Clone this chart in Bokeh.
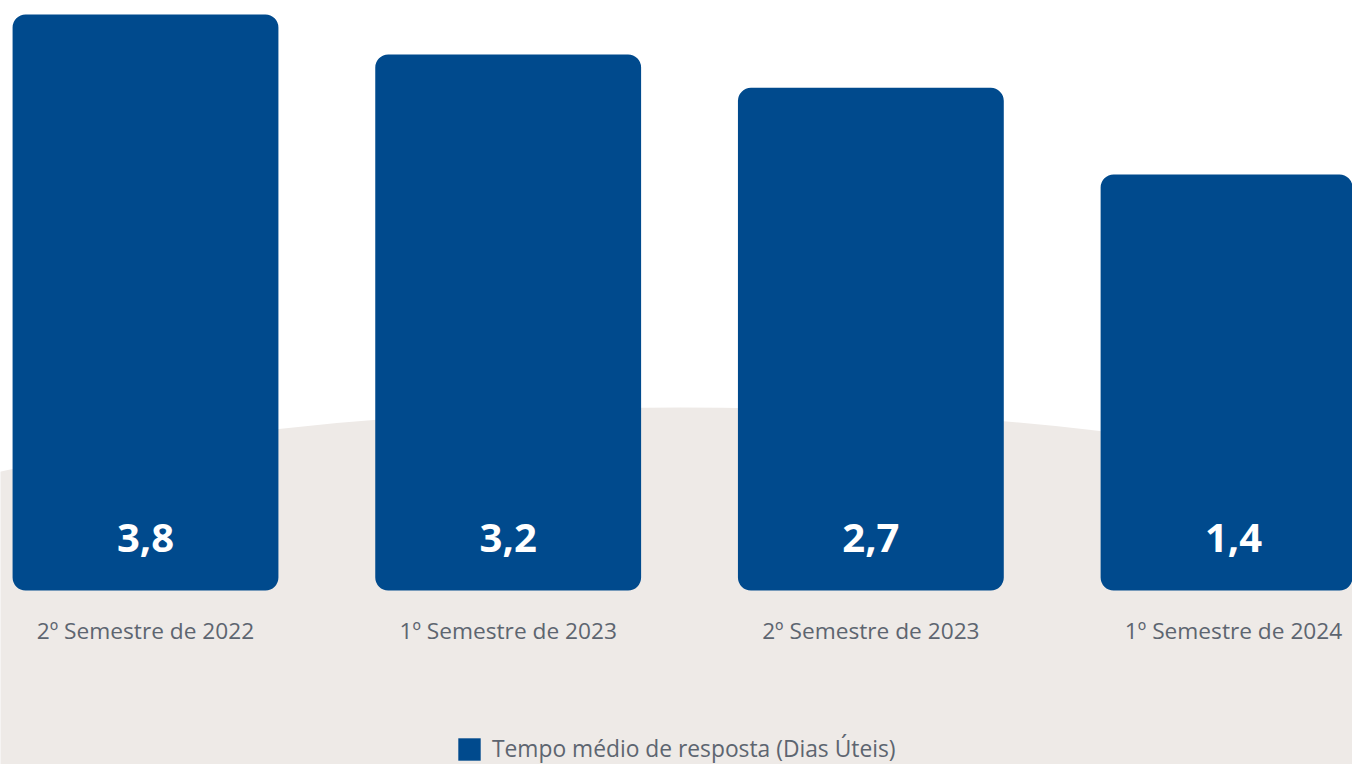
from bokeh.plotting import figure
from bokeh.models import Range1d, ColumnDataSource, Legend, LegendItem
from bokeh.embed import file_html
from bokeh.resources import INLINE
from bokeh.core.properties import value

categories = ["2º Semestre de 2022", "1º Semestre de 2023", "2º Semestre de 2023", "1º Semestre de 2024"]
values = [3.8, 3.2, 2.7, 1.4]
series_name = "Tempo médio de resposta (Dias Úteis)"

BAR_COLOR = "#004a8d"
BEIGE = "#eeeae7"
GRAY = "#5d6570"
FONT = "Open Sans"
BASE = -4.84

idx = list(range(len(categories)))
src = ColumnDataSource(dict(
    x=idx,
    top=values,
    vlabel=[f"{v:.1f}".replace(".", ",") for v in values],
    cat=categories,
))

p = figure(width=1352, height=764, output_backend="svg", toolbar_location=None,
           x_range=Range1d(-0.3998, 3.328), y_range=Range1d(-7.45, 4.01),
           x_axis_location=None, y_axis_location=None, min_border=0,
           outline_line_color=None, background_fill_color="white",
           border_fill_color="white")
p.grid.visible = False

# background curved shape
p.ellipse(x=[1.475], y=[-9.73], width=[2800], height=[1018],
          width_units="screen", height_units="screen",
          fill_color=BEIGE, line_color=None)

bars = p.vbar(x="x", top="top", bottom=BASE, width=0.733, source=src,
              fill_color=BAR_COLOR, line_color=None, border_radius=13)

p.text(x="x", y=-4.055, text="vlabel", source=src, text_color="white",
       text_font=value(FONT), text_font_style="bold", text_font_size="40px",
       text_align="center", text_baseline="middle")

p.text(x="x", y=-5.44, text="cat", source=src, text_color=GRAY,
       text_font=value(FONT), text_font_size="22.7px",
       text_align="center", text_baseline="middle")

legend = Legend(items=[LegendItem(label=series_name, renderers=[bars])],
                location=(455, 0), orientation="horizontal",
                glyph_width=28, glyph_height=28, padding=0, margin=0,
                label_standoff=9, label_text_font=FONT,
                label_text_font_size="22.8px", label_text_color=GRAY,
                background_fill_alpha=0, border_line_alpha=0)
p.add_layout(legend)

open("out.html", "w").write(file_html(p, INLINE))
